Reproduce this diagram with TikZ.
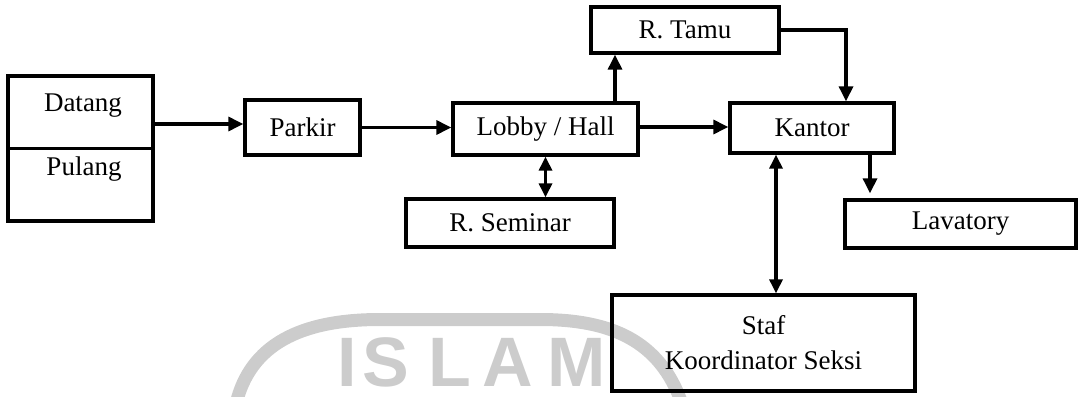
\documentclass[tikz,border=0pt]{standalone}
\usepackage{fontspec}
\setmainfont{Liberation Serif}
\newfontfamily\wmfont{Liberation Sans}
\usetikzlibrary{arrows.meta}
\begin{document}
\begin{tikzpicture}[x=1pt, y=-1pt,
  every node/.style={font=\fontsize{27pt}{35pt}\selectfont, inner sep=0pt},
  box/.style={draw, line width=3.3pt, rectangle},
  link/.style={line width=3.2pt, -{Triangle[length=15pt,width=14pt]}},
  twoway/.style={line width=3.2pt, {Triangle[length=14pt,width=13pt]}-{Triangle[length=14pt,width=13pt]}},
  wmark/.style={font=\wmfont\bfseries\fontsize{70pt}{70pt}\selectfont, text=black!20}]
\useasboundingbox (0,0) rectangle (1078,396);

% faint seal in the background
\begin{scope}
  \clip (0,0) rectangle (1078,396);
  \draw[black!20, line width=13pt]
    (236,404) .. controls (250,345) and (300,319.5) .. (380,319.5)
    -- (540,319.5) .. controls (610,319.5) and (660,340) .. (682,404);
\end{scope}
\node[wmark] (wI) at (347,362) {I};
\node[wmark] (wS) at (386,362) {S};
\node[wmark] (wL) at (450,362) {L};
\node[wmark] (wA) at (508,362) {A};
\node[wmark] (wM) at (577,362) {M};

% rooms
\node[box, minimum width=145pt, minimum height=145pt] (DP) at (80.5,148.5) {};
\node (datang) at (83,106) {Datang};
\node (pulang) at (84,169) {Pulang};
\draw[line width=3.3pt] (DP.west) -- (DP.east);

\node[box, minimum width=115pt, minimum height=55pt] (Parkir) at (302.5,127.5) {Parkir};
\node[box, minimum width=185pt, minimum height=52pt] (Lobby) at (545.5,129) {Lobby / Hall};
\node[box, minimum width=188pt, minimum height=46pt] (RTamu) at (685,30) {R. Tamu};
\node[box, minimum width=164pt, minimum height=50pt] (Kantor) at (812,128) {Kantor};
\node[box, minimum width=208pt, minimum height=48pt] (Seminar) at (510,223) {R. Seminar};
\node[box, minimum width=231pt, minimum height=48pt] (Lavatory) at (960.5,224) {Lavatory};
\node[box, minimum width=303pt, minimum height=96pt, align=center] (Staf) at (763.5,343) {Staf\\Koordinator Seksi};

% circulation
\draw[link] ([yshift=3.5pt]Parkir.west -| DP.east) -- ([yshift=3.5pt]Parkir.west);
\draw[link] (Parkir.east) -- (Parkir.east -| Lobby.west);
\draw[link] ([yshift=2pt]Lobby.east) -- ([yshift=2pt]Lobby.east -| Kantor.west);
\draw[link] ([xshift=69.5pt]Lobby.north) -- ([xshift=69.5pt]Lobby.north |- RTamu.south);
\draw[link] (RTamu.east) -| ([xshift=34pt]Kantor.north);
\draw[twoway] (Lobby.south) -- (Lobby.south |- Seminar.north);
\draw[twoway] ([xshift=-36pt]Kantor.south) -- ([xshift=-36pt]Kantor.south |- Staf.north);
\draw[link, shorten >=5pt] ([xshift=58pt]Kantor.south) -- ([xshift=58pt]Kantor.south |- Lavatory.north);
\end{tikzpicture}
\end{document}
